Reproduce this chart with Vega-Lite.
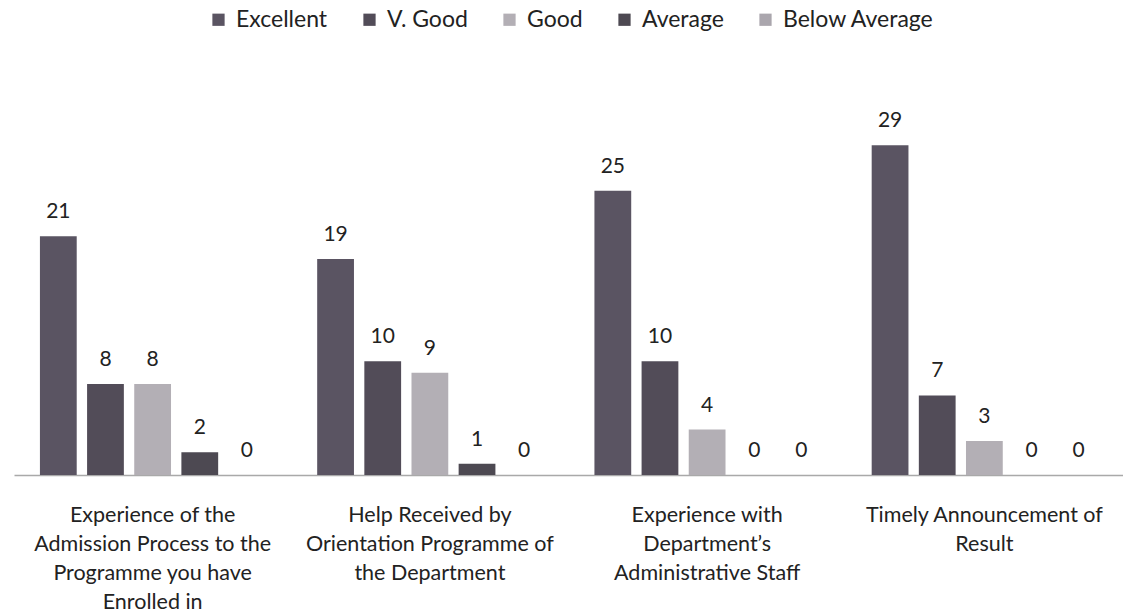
{
  "$schema": "https://vega.github.io/schema/vega-lite/v6.json",
  "width": 1109,
  "height": 415,
  "autosize": {"type": "none"},
  "padding": {"left": 14, "top": 60, "right": 0, "bottom": 141},
  "background": "white",
  "config": {"view": {"stroke": null}, "font": "Lato"},
  "data": {
    "values": [
      {"cat": "Experience of the|Admission Process to the|Programme you have|Enrolled in", "rating": "Excellent", "value": 21},
      {"cat": "Experience of the|Admission Process to the|Programme you have|Enrolled in", "rating": "V. Good", "value": 8},
      {"cat": "Experience of the|Admission Process to the|Programme you have|Enrolled in", "rating": "Good", "value": 8},
      {"cat": "Experience of the|Admission Process to the|Programme you have|Enrolled in", "rating": "Average", "value": 2},
      {"cat": "Experience of the|Admission Process to the|Programme you have|Enrolled in", "rating": "Below Average", "value": 0},
      {"cat": "Help Received by|Orientation Programme of|the Department", "rating": "Excellent", "value": 19},
      {"cat": "Help Received by|Orientation Programme of|the Department", "rating": "V. Good", "value": 10},
      {"cat": "Help Received by|Orientation Programme of|the Department", "rating": "Good", "value": 9},
      {"cat": "Help Received by|Orientation Programme of|the Department", "rating": "Average", "value": 1},
      {"cat": "Help Received by|Orientation Programme of|the Department", "rating": "Below Average", "value": 0},
      {"cat": "Experience with|Department’s|Administrative Staff", "rating": "Excellent", "value": 25},
      {"cat": "Experience with|Department’s|Administrative Staff", "rating": "V. Good", "value": 10},
      {"cat": "Experience with|Department’s|Administrative Staff", "rating": "Good", "value": 4},
      {"cat": "Experience with|Department’s|Administrative Staff", "rating": "Average", "value": 0},
      {"cat": "Experience with|Department’s|Administrative Staff", "rating": "Below Average", "value": 0},
      {"cat": "Timely Announcement of|Result", "rating": "Excellent", "value": 29},
      {"cat": "Timely Announcement of|Result", "rating": "V. Good", "value": 7},
      {"cat": "Timely Announcement of|Result", "rating": "Good", "value": 3},
      {"cat": "Timely Announcement of|Result", "rating": "Average", "value": 0},
      {"cat": "Timely Announcement of|Result", "rating": "Below Average", "value": 0}
    ]
  },
  "encoding": {
    "x": {
      "field": "cat", "type": "nominal", "sort": null,
      "scale": {"paddingInner": 0, "paddingOuter": 0},
      "axis": {
        "title": null, "labelAngle": 0, "ticks": false,
        "domainColor": "#a9a9a9", "domainWidth": 1.5,
        "labelExpr": "split(datum.label, '|')",
        "labelFontSize": 21.5, "labelColor": "#222222", "labelLineHeight": 29,
        "labelPadding": 29, "labelLimit": 0
      }
    },
    "xOffset": {
      "field": "rating", "type": "nominal",
      "sort": ["Excellent", "V. Good", "Good", "Average", "Below Average"],
      "scale": {"paddingInner": 0.22, "paddingOuter": 0.55}
    },
    "y": {
      "field": "value", "type": "quantitative",
      "scale": {"domain": [0, 36.5], "nice": false, "zero": true},
      "axis": null
    }
  },
  "layer": [
    {
      "mark": {"type": "bar"},
      "encoding": {
        "color": {
          "field": "rating", "type": "nominal",
          "sort": ["Excellent", "V. Good", "Good", "Average", "Below Average"],
          "scale": {
            "domain": ["Excellent", "V. Good", "Good", "Average", "Below Average"],
            "range": ["#5a5462", "#524c58", "#b3afb5", "#4d4952", "#aaa6ad"]
          },
          "legend": {
            "title": null, "orient": "none", "direction": "horizontal",
            "legendX": 193, "legendY": -52,
            "symbolType": "square", "symbolSize": 150, "symbolStrokeWidth": 0,
            "labelFontSize": 23, "labelColor": "#222222", "labelOffset": 6,
            "columnPadding": 30
          }
        }
      }
    },
    {
      "mark": {"type": "text", "baseline": "bottom", "dy": -14, "fontSize": 21, "color": "#222222"},
      "encoding": {"text": {"field": "value", "type": "quantitative"}}
    }
  ]
}
